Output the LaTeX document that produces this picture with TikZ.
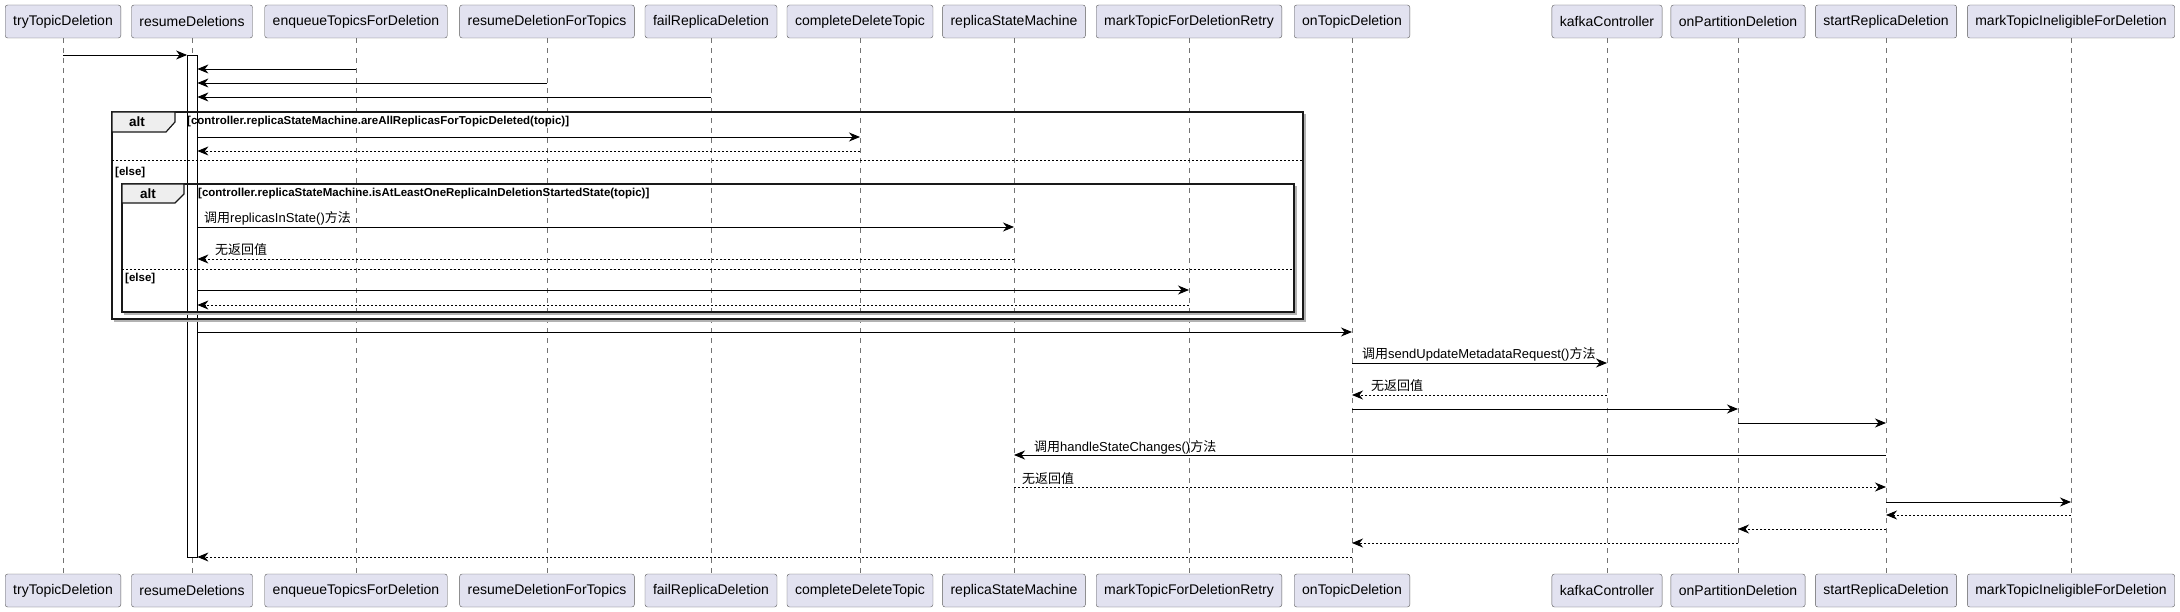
\documentclass[tikz,border=0pt]{standalone}
\usepackage{fontspec}
\setmainfont{Liberation Sans}
\newfontfamily\cjk{Noto Sans CJK SC}
\usetikzlibrary{arrows.meta}
\definecolor{partfill}{HTML}{E2E2F0}
\definecolor{tabfill}{HTML}{EEEEEE}
\newcommand\seqmsg[4]{\draw[#1] (#2 |- 0,#4) -- (#3 |- 0,#4);}
\begin{document}
\begin{tikzpicture}[x=1pt,y=-1pt,
  actor/.style={draw=black!65, fill=partfill, rounded corners=2.5pt, minimum height=33pt, inner xsep=8pt, font=\fontsize{14}{16}\selectfont},
  life/.style={draw=black!55, dash pattern=on 5pt off 5pt, line width=0.6pt},
  call/.style={-{Stealth[length=11pt,width=9pt,inset=3.5pt]}, line width=0.9pt},
  ret/.style={call, dash pattern=on 2pt off 2pt},
  lbl/.style={font=\fontsize{13}{15}\selectfont, inner sep=1pt, anchor=base west},
  frm/.style={line width=1.5pt, draw=black!90},
  shd/.style={line width=1.5pt, draw=black!30},
  tab/.style={line width=1.2pt, draw=black!90, fill=tabfill},
  kw/.style={font=\bfseries\fontsize{13.5}{15}\selectfont},
  guard/.style={font=\bfseries\fontsize{11.5}{13}\selectfont, anchor=west, inner sep=0pt},
  sep/.style={dash pattern=on 2pt off 2pt, line width=0.8pt}]
  \useasboundingbox (0,0) rectangle (2180,612);
  \fill[white] (0,0) rectangle (2180,612);
  % participants, top and bottom, with their lifelines
  \foreach \n/\x/\t in {tTD/63/tryTopicDeletion, rD/192/resumeDeletions,
      eTFD/356/enqueueTopicsForDeletion, rDFT/547/resumeDeletionForTopics,
      fRD/711/failReplicaDeletion, cDT/860/completeDeleteTopic,
      rSM/1014/replicaStateMachine, mTFDR/1189/markTopicForDeletionRetry,
      oTD/1352/onTopicDeletion, kC/1607/kafkaController,
      oPD/1738/onPartitionDeletion, sRD/1886/startReplicaDeletion,
      mTIFD/2071/markTopicIneligibleForDeletion}{
    \node[actor] (\n) at (\x,21.5) {\t};
    \node[actor] (\n-b) at (\x,590.5) {\t};
    \draw[life] (\n) -- (\n-b);
  }
  % activation of resumeDeletions
  \node[draw, fill=white, line width=0.8pt, minimum width=9.5pt, minimum height=502pt, inner sep=0pt] (act) at (192.25,306.25) {};
  % outer alt
  \draw[shd] (114,321) -- (1305,321) -- (1305,114);
  \draw[frm] (112,112) rectangle (1303,319);
  \draw[tab] (112,112) -- (175,112) -- (175,122) -- (166,132) -- (112,132) -- cycle;
  \node[kw] (alt1) at (137,122) {alt};
  \node[guard] (g1) at (187,122) {[controller.replicaStateMachine.areAllReplicasForTopicDeleted(topic)]};
  \draw[sep] (112,160) -- (1303,160);
  \node[guard] (e1) at (115,173) {[else]};
  % inner alt
  \draw[shd] (124,314) -- (1296,314) -- (1296,186);
  \draw[frm] (122,184) rectangle (1294,312);
  \draw[tab] (122,184) -- (184,184) -- (184,194) -- (175,203) -- (122,203) -- cycle;
  \node[kw] (alt2) at (148,193.5) {alt};
  \node[guard] (g2) at (198,194) {[controller.replicaStateMachine.isAtLeastOneReplicaInDeletionStartedState(topic)]};
  \draw[sep] (122,269) -- (1294,269);
  \node[guard] (e2) at (125,279) {[else]};
  % messages
  \seqmsg{call}{tTD}{act.west}{55}
  \seqmsg{call}{eTFD}{act.east}{69}
  \seqmsg{call}{rDFT}{act.east}{83}
  \seqmsg{call}{fRD}{act.east}{97}
  \seqmsg{call}{act.east}{cDT}{137}
  \seqmsg{ret}{cDT}{act.east}{151}
  \seqmsg{call}{act.east}{rSM}{227}
  \seqmsg{ret}{rSM}{act.east}{259}
  \seqmsg{call}{act.east}{mTFDR}{290}
  \seqmsg{ret}{mTFDR}{act.east}{305}
  \seqmsg{call}{act.east}{oTD}{332}
  \seqmsg{call}{oTD}{kC}{363}
  \seqmsg{ret}{kC}{oTD}{395}
  \seqmsg{call}{oTD}{oPD}{409}
  \seqmsg{call}{oPD}{sRD}{423}
  \seqmsg{call}{sRD}{rSM}{455}
  \seqmsg{ret}{rSM}{sRD}{487}
  \seqmsg{call}{sRD}{mTIFD}{502}
  \seqmsg{ret}{mTIFD}{sRD}{515}
  \seqmsg{ret}{sRD}{oPD}{529}
  \seqmsg{ret}{oPD}{oTD}{543}
  \seqmsg{ret}{oTD}{act.east}{557}
  % message labels
  \node[lbl] (l1) at (203,223) {{\cjk 调用}replicasInState(){\cjk 方法}};
  \node[lbl] (l2) at (214,255) {\cjk 无返回值};
  \node[lbl] (l3) at (1361,359) {{\cjk 调用}sendUpdateMetadataRequest(){\cjk 方法}};
  \node[lbl] (l4) at (1370,391) {\cjk 无返回值};
  \node[lbl] (l5) at (1033,451) {{\cjk 调用}handleStateChanges(){\cjk 方法}};
  \node[lbl] (l6) at (1021,483) {\cjk 无返回值};
\end{tikzpicture}
\end{document}
